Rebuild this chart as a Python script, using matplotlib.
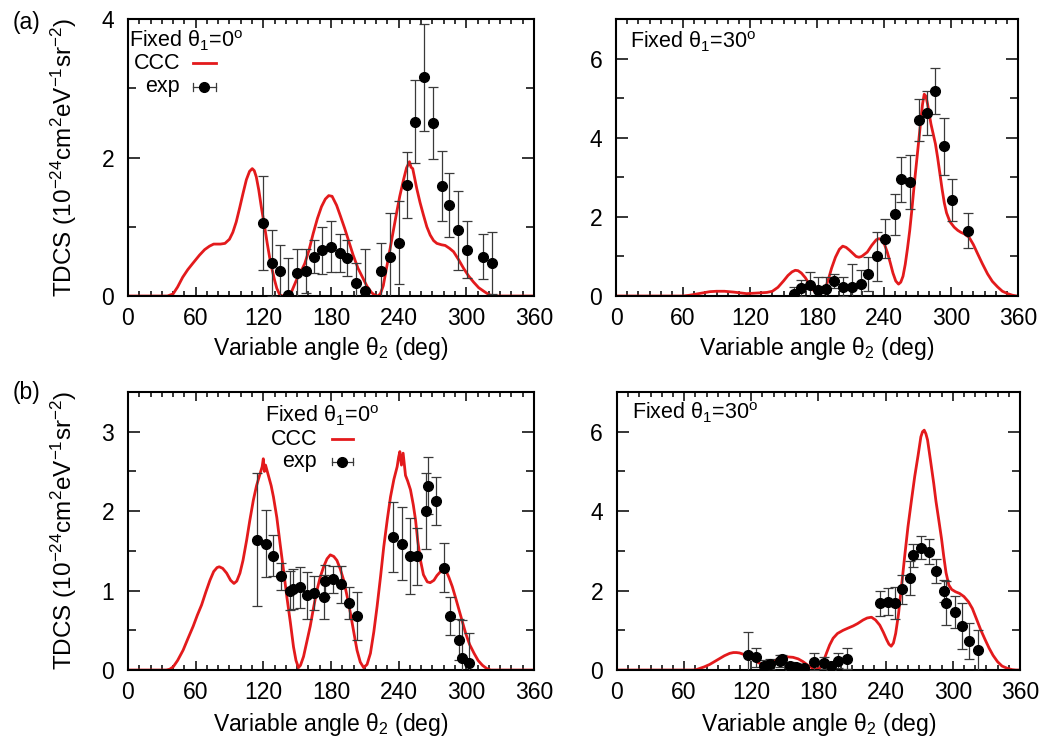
import matplotlib
matplotlib.use("Agg")
import matplotlib.pyplot as plt
from matplotlib.ticker import MultipleLocator

plt.rcParams["font.family"] = ["Liberation Sans", "DejaVu Sans"]
plt.rcParams["mathtext.fontset"] = "custom"
plt.rcParams["mathtext.rm"] = "Liberation Sans"
plt.rcParams["mathtext.it"] = "Liberation Sans:italic"
plt.rcParams["mathtext.bf"] = "Liberation Sans:bold"
plt.rcParams["font.size"] = 16.5

RED = "#e31a1c"

# (a) theta1 = 0 : CCC curve (angle, TDCS)
A0_CCC = [(0, 0), (35, 0), (40, 0.03), (44, 0.13), (48.5, 0.27), (53, 0.38), (57.4, 0.47),
          (63.4, 0.59), (68, 0.67), (72.3, 0.72), (76, 0.75), (82, 0.75), (86, 0.76), (90, 0.82),
          (93, 0.92), (96, 1.07), (99, 1.27), (102, 1.48), (105, 1.68), (107.8, 1.8), (110.2, 1.84),
          (112, 1.81), (113.8, 1.72), (116, 1.53), (118.2, 1.29), (121.2, 1.0), (123.5, 0.76),
          (125.6, 0.56), (128, 0.37), (130, 0.23), (132, 0.11), (134.5, 0.02), (137, 0), (142, 0),
          (145, 0.06), (149.4, 0.23), (153, 0.34), (156.8, 0.47), (160.5, 0.66), (164.2, 0.9),
          (168, 1.12), (171.6, 1.29), (175, 1.4), (178, 1.45), (181, 1.44), (185, 1.31),
          (188.5, 1.15), (192.3, 0.97), (196, 0.78), (199.7, 0.59), (204, 0.4), (208.6, 0.25),
          (212, 0.14), (216, 0.05), (219, 0.01), (222, 0), (224, 0.04), (226.4, 0.15), (229, 0.38),
          (232.4, 0.68), (235.5, 0.96), (238.3, 1.21), (241, 1.44), (244.2, 1.67), (247, 1.85),
          (248.5, 1.9), (249.6, 1.94), (251, 1.86), (252.5, 1.84), (254, 1.72), (256.1, 1.55),
          (259, 1.35), (262, 1.17), (265, 1.0), (268, 0.88), (271, 0.8), (273.9, 0.76), (278, 0.74),
          (281.3, 0.73), (285, 0.69), (288.7, 0.64), (293, 0.53), (297.6, 0.40), (302, 0.29),
          (306.5, 0.2), (311, 0.12), (315.4, 0.07), (320, 0.02), (324.3, 0), (360, 0)]
# (a) theta1 = 0 : experiment (angle, TDCS, error)
A0_EXP = [(120, 1.055, 0.68), (128, 0.48, 0.48), (134.5, 0.36, 0.38), (142.2, 0.01, 0.54),
          (150.2, 0.33, 0.35), (158.2, 0.36, 0.32), (164.7, 0.57, 0.24), (172.4, 0.66, 0.34),
          (180.4, 0.71, 0.37), (187.9, 0.62, 0.28), (194.4, 0.55, 0.26), (202.1, 0.19, 0.28),
          (210.1, 0.07, 0.61), (224.3, 0.36, 0.4), (232.3, 0.57, 0.63), (240.3, 0.77, 0.6),
          (247.7, 1.6, 0.48), (254.5, 2.52, 0.6), (262.5, 3.16, 0.77), (270.2, 2.5, 0.52),
          (278.2, 1.59, 0.51), (284.7, 1.31, 0.46), (293, 0.95, 0.57), (301, 0.67, 0.41),
          (314.4, 0.57, 0.33), (322.7, 0.48, 0.45)]

# (a) theta1 = 30
A30_CCC = [(0, 0), (60, 0), (66, 0.02), (72, 0.05), (78, 0.08), (84, 0.11), (90, 0.12), (97, 0.12),
           (105, 0.1), (111, 0.08), (117, 0.06), (123, 0.07), (129, 0.08), (135, 0.09), (140, 0.12),
           (145, 0.22), (150, 0.38), (154, 0.52), (157.6, 0.61), (160.5, 0.65), (163, 0.64),
           (166, 0.58), (169.6, 0.46), (173, 0.3), (177, 0.14), (180, 0.07), (183, 0.06), (186, 0.14),
           (188.5, 0.28), (190.5, 0.45), (193, 0.7), (196.5, 0.98), (200, 1.18), (203, 1.26),
           (206, 1.23), (209, 1.16), (212, 1.08), (215, 1.0), (217.5, 0.98), (220, 1.0), (225, 1.11),
           (229, 1.28), (233, 1.42), (235.5, 1.45), (238, 1.42), (240.5, 1.3), (243, 1.1),
           (245.5, 0.85), (248, 0.58), (250.5, 0.38), (253, 0.3), (255, 0.35), (257, 0.5), (259, 0.8),
           (261, 1.2), (263, 1.65), (265, 2.2), (267, 2.8), (269, 3.35), (271, 3.9), (273, 4.45),
           (274.5, 4.85), (276, 5.1), (277.5, 5.05), (279, 4.85), (280.5, 4.6), (282, 4.35),
           (284, 4.1), (286, 3.85), (288, 3.5), (290, 3.1), (292, 2.7), (294, 2.35), (296, 2.1),
           (299, 1.88), (302.8, 1.74), (306, 1.66), (308.8, 1.61), (312, 1.57), (316.3, 1.48),
           (320, 1.3), (323.8, 1.07), (328, 0.82), (332.7, 0.56), (337, 0.37), (341.7, 0.23),
           (346, 0.12), (350.7, 0.06), (355, 0.02), (359, 0), (360, 0)]
A30_EXP = [(159.1, 0.04, 0.2), (165.7, 0.21, 0.2), (173.3, 0.29, 0.31), (180.9, 0.14, 0.34),
           (188.3, 0.18, 0.3), (195, 0.38, 0.18), (203.1, 0.24, 0.24), (210.9, 0.24, 0.57),
           (219, 0.31, 0.35), (225.6, 0.55, 0.43), (233.3, 1.0, 0.61), (241.3, 1.45, 0.5),
           (249.5, 2.07, 0.52), (255.5, 2.95, 0.57), (263.3, 2.89, 0.68), (271.3, 4.44, 0.53),
           (278.8, 4.63, 0.55), (285.3, 5.18, 0.58), (293.3, 3.78, 0.72), (301.3, 2.42, 0.53),
           (315.3, 1.65, 0.44)]

# (b) theta1 = 0
B0_CCC = [(0, 0), (34, 0), (37, 0.01), (40.1, 0.04), (44, 0.12), (48.9, 0.25), (53, 0.39),
          (57.8, 0.55), (61.5, 0.69), (65.3, 0.82), (69, 0.98), (72.7, 1.13), (76, 1.24), (79, 1.29),
          (81, 1.30), (84, 1.28), (87.5, 1.22), (91, 1.13), (94, 1.09), (96.5, 1.12), (99.3, 1.22),
          (102, 1.38), (105.3, 1.64), (108, 1.88), (111.2, 2.14), (114, 2.32), (117.1, 2.47),
          (119, 2.56), (120, 2.66), (121, 2.5), (122, 2.58), (124.5, 2.45), (127, 2.32), (129, 2.18),
          (132, 1.92), (134.9, 1.59), (138, 1.25), (140.9, 0.92), (144, 0.6), (146.8, 0.29),
          (149, 0.12), (151.2, 0.03), (153, 0.06), (155.7, 0.17), (158.5, 0.35), (161.6, 0.55),
          (164.5, 0.78), (167.5, 1.0), (170.5, 1.17), (173.5, 1.3), (176.5, 1.4), (179.4, 1.45),
          (182.5, 1.43), (185.3, 1.38), (188.3, 1.27), (191.3, 1.13), (194.3, 0.93), (197.2, 0.72),
          (200.2, 0.48), (203.1, 0.25), (206, 0.1), (209, 0.03), (212, 0.07), (215, 0.21),
          (218, 0.48), (220.9, 0.8), (224, 1.18), (226.8, 1.55), (230, 1.9), (232.8, 2.18),
          (235.8, 2.4), (238.7, 2.56), (240, 2.68), (241.1, 2.75), (242.5, 2.58), (244, 2.73),
          (246.1, 2.45), (248, 2.38), (250.5, 2.27), (253, 2.08), (255, 1.89), (257, 1.62),
          (259.4, 1.38), (262, 1.2), (265.4, 1.11), (268, 1.1), (271.3, 1.13), (274, 1.19),
          (277.2, 1.24), (279.5, 1.26), (281.7, 1.26), (284.5, 1.17), (287.6, 1.05), (290.5, 0.91),
          (293.5, 0.76), (296.5, 0.61), (299.5, 0.46), (303, 0.32), (306.9, 0.21), (310.5, 0.12),
          (314.3, 0.06), (318, 0.02), (321.7, 0), (360, 0)]
B0_EXP = [(114.8, 1.64, 0.84), (122.2, 1.59, 0.42), (129, 1.44, 0.26), (135.5, 1.18, 0.17),
          (143.8, 1.0, 0.25), (146.5, 1.02, 0.25), (152.7, 1.04, 0.26), (158.6, 0.94, 0.3),
          (165.4, 0.97, 0.21), (173.4, 0.92, 0.28), (174.9, 1.12, 0.2), (181.8, 1.14, 0.17),
          (189.2, 1.08, 0.23), (195.7, 0.84, 0.2), (203.1, 0.68, 0.3), (235.1, 1.67, 0.44),
          (243.1, 1.59, 0.46), (249.9, 1.44, 0.48), (255.9, 1.43, 0.36), (263.9, 2.0, 0.48),
          (266, 2.32, 0.36), (273.4, 2.13, 0.3), (280.2, 1.29, 0.31), (285.5, 0.68, 0.24),
          (293.5, 0.38, 0.26), (296.5, 0.15, 0.48), (302.4, 0.09, 0.37)]

# (b) theta1 = 30
B30_CCC = [(0, 0), (68, 0), (71, 0.01), (73.9, 0.04), (78, 0.08), (82.8, 0.14), (87, 0.21),
           (91.8, 0.29), (96, 0.36), (100.7, 0.42), (104, 0.44), (106.7, 0.44), (109.5, 0.43),
           (112.6, 0.40), (117, 0.34), (121.6, 0.27), (126, 0.19), (130.5, 0.13), (135, 0.15),
           (139.5, 0.21), (144, 0.28), (148.4, 0.32), (153, 0.33), (157.3, 0.32), (162, 0.28),
           (166.3, 0.21), (171, 0.11), (175.2, 0.04), (178, 0.02), (181.2, 0.04), (184, 0.18),
           (187.1, 0.42), (190, 0.63), (193.1, 0.8), (197, 0.92), (202, 1.0), (206, 1.05), (211, 1.11),
           (215, 1.17), (219.9, 1.26), (223.5, 1.31), (227.4, 1.33), (231, 1.26), (234.8, 1.13),
           (238, 0.95), (241, 0.76), (243, 0.65), (245, 0.6), (247, 0.68), (249, 0.92), (251.5, 1.4),
           (254.5, 2.18), (257, 2.85), (260, 3.61), (263, 4.25), (266, 4.87), (269, 5.4),
           (271.5, 5.87), (273, 6.0), (274.5, 6.04), (276, 5.95), (277.5, 5.79), (280, 5.3), (283, 4.7),
           (285, 4.25), (287.5, 3.78), (290, 3.3), (292, 2.85), (294, 2.45), (296.5, 2.14),
           (299, 2.03), (302.5, 1.97), (306, 1.93), (310, 1.85), (314, 1.72), (317.5, 1.55),
           (321, 1.3), (325, 1.01), (329, 0.76), (332.5, 0.55), (336, 0.37), (340, 0.21), (344, 0.1),
           (349, 0.04), (353, 0.01), (356.5, 0), (360, 0)]
B30_EXP = [(117.1, 0.38, 0.58), (124, 0.32, 0.24), (131.1, 0.1, 0.15), (136.5, 0.15, 0.12),
           (145.4, 0.23, 0.16), (147.8, 0.27, 0.12), (154.4, 0.1, 0.1), (160.3, 0.08, 0.1),
           (166.9, 0.04, 0.08), (175.8, 0.21, 0.21), (184.7, 0.18, 0.16), (191.6, 0.1, 0.1),
           (197.6, 0.23, 0.19), (205.9, 0.29, 0.26), (234.8, 1.68, 0.31), (242.3, 1.72, 0.34),
           (248.2, 1.69, 0.4), (255.1, 2.03, 0.36), (262.2, 2.32, 0.42), (264.6, 2.89, 0.29),
           (272, 3.08, 0.29), (278.9, 2.98, 0.32), (284.6, 2.49, 0.3), (292, 1.99, 0.28),
           (294.4, 1.68, 0.55), (301.8, 1.47, 0.4), (308.7, 1.11, 0.57), (314.7, 0.74, 0.45),
           (322.7, 0.5, 0.52)]

YLABEL = "TDCS (10$^{-24}$cm$^{2}$eV$^{-1}$sr$^{-2}$)"
XLABEL = "Variable angle \u03b8$_{2}$ (deg)"
LEG_FS = 15.5


def panel(fig, rect, ccc, exp, ymax, ymaj, ymin, xlab_y, ylabel=False):
    ax = fig.add_axes(rect)
    cx, cy = zip(*ccc)
    ex, ey, ee = zip(*exp)
    ax.plot(cx, cy, color=RED, lw=2.0, zorder=2)
    ax.errorbar(ex, ey, yerr=ee, fmt="o", color="black", ms=7, ecolor="#3a3a3a",
                elinewidth=0.9, capsize=3.5, capthick=0.9, zorder=3)
    ax.set_xlim(0, 360)
    ax.set_ylim(0, ymax)
    ax.xaxis.set_major_locator(MultipleLocator(60))
    ax.xaxis.set_minor_locator(MultipleLocator(10))
    ax.yaxis.set_major_locator(MultipleLocator(ymaj))
    ax.yaxis.set_minor_locator(MultipleLocator(ymin))
    ax.tick_params(which="both", direction="in", top=True, right=True, width=1.1)
    ax.tick_params(axis="x", which="major", length=6.5, pad=8)
    ax.tick_params(axis="x", which="minor", length=3.5)
    ax.tick_params(axis="y", which="major", length=8.5, pad=10)
    ax.tick_params(axis="y", which="minor", length=5.5)
    for s in ax.spines.values():
        s.set_linewidth(1.5)
    ax.set_xlabel(XLABEL)
    ax.xaxis.set_label_coords(0.5, xlab_y)
    if ylabel:
        ax.set_ylabel(YLABEL, fontsize=17.5)
        ax.yaxis.set_label_coords(-0.12, 0.5)
    return ax


def legend(ax, title, tx, ty, xr, s0, s1, yc, ye, full=True):
    tr = ax.transAxes
    ax.text(tx, ty, title, transform=tr, ha="left", va="center", fontsize=LEG_FS)
    if not full:
        return
    ax.text(xr, yc, "CCC", transform=tr, ha="right", va="center", fontsize=LEG_FS)
    ax.plot([s0, s1], [yc, yc], color=RED, lw=2.0, transform=tr, clip_on=False)
    ax.text(xr, ye, "exp", transform=tr, ha="right", va="center", fontsize=LEG_FS)
    ax.plot([s0, s1], [ye, ye], color="#3a3a3a", lw=0.9, transform=tr, clip_on=False)
    d = 0.014
    for xc in (s0, s1):
        ax.plot([xc, xc], [ye - d, ye + d], color="#3a3a3a", lw=0.9, transform=tr, clip_on=False)
    ax.plot([(s0 + s1) / 2], [ye], "o", color="black", ms=7, transform=tr, clip_on=False)


fig = plt.figure(figsize=(10.48, 7.38), dpi=100)

ax1 = panel(fig, [0.1221, 0.5989, 0.3874, 0.3753], A0_CCC, A0_EXP, 4, 2, 1, -0.14, ylabel=True)
ax2 = panel(fig, [0.5878, 0.5989, 0.3836, 0.3753], A30_CCC, A30_EXP, 7, 2, 1, -0.14)
ax3 = panel(fig, [0.1221, 0.0921, 0.3874, 0.3767], B0_CCC, B0_EXP, 3.5, 1, 0.5, -0.148, ylabel=True)
ax4 = panel(fig, [0.5887, 0.0921, 0.3845, 0.3767], B30_CCC, B30_EXP, 7, 2, 1, -0.148)

legend(ax1, "Fixed \u03b8$_{1}$=0$^{\\mathrm{o}}$", 0.003, 0.922, 0.128, 0.160, 0.217, 0.84, 0.755)
legend(ax2, "Fixed \u03b8$_{1}$=30$^{\\mathrm{o}}$", 0.035, 0.917, 0, 0, 0, 0, 0, full=False)
legend(ax3, "Fixed \u03b8$_{1}$=0$^{\\mathrm{o}}$", 0.337, 0.915, 0.466, 0.502, 0.554, 0.83, 0.75)
legend(ax4, "Fixed \u03b8$_{1}$=30$^{\\mathrm{o}}$", 0.037, 0.924, 0, 0, 0, 0, 0, full=False)

fig.text(13 / 1048, 1 - 23 / 738, "(a)", ha="left", va="center")
fig.text(13 / 1048, 1 - 393 / 738, "(b)", ha="left", va="center")

fig.savefig("out.png", dpi=100)
